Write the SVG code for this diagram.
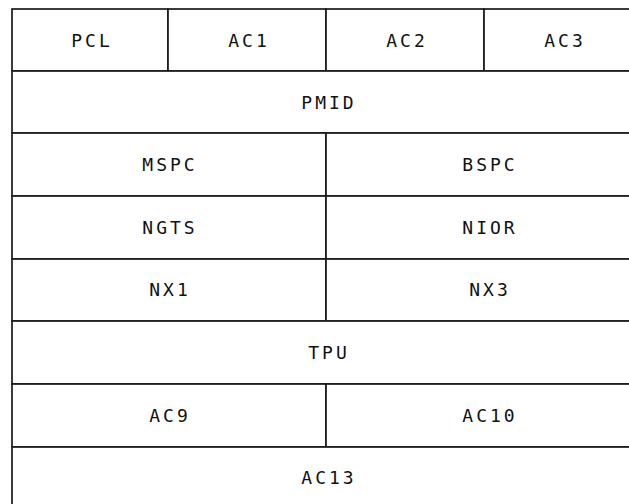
<svg xmlns="http://www.w3.org/2000/svg" width="629" height="504" viewBox="0 0 629 504">
  <style>
    .cell { fill: #ffffff; stroke: #1a1a1a; stroke-width: 1.7; }
    .lbl { font-family: "DejaVu Sans Mono", "Liberation Mono", monospace; font-size: 18px; letter-spacing: 3px; fill: #111111; text-anchor: middle; }
  </style>
  <rect width="629" height="504" fill="#ffffff"/>

  <!-- Row 1 -->
  <g id="pcl"><rect class="cell" x="12" y="9" width="156" height="62"/><text class="lbl" x="92" y="47">PCL</text></g>
  <g id="ac1"><rect class="cell" x="168" y="9" width="158" height="62"/><text class="lbl" x="249" y="47">AC1</text></g>
  <g id="ac2"><rect class="cell" x="326" y="9" width="158" height="62"/><text class="lbl" x="407" y="47">AC2</text></g>
  <g id="ac3"><rect class="cell" x="484" y="9" width="160" height="62"/><text class="lbl" x="565" y="47">AC3</text></g>

  <!-- Row 2 -->
  <g id="pmid"><rect class="cell" x="12" y="71" width="632" height="62"/><text class="lbl" x="329" y="109">PMID</text></g>

  <!-- Row 3 -->
  <g id="mspc"><rect class="cell" x="12" y="133" width="314" height="63"/><text class="lbl" x="170" y="171">MSPC</text></g>
  <g id="bspc"><rect class="cell" x="326" y="133" width="318" height="63"/><text class="lbl" x="490" y="171">BSPC</text></g>

  <!-- Row 4 -->
  <g id="ngts"><rect class="cell" x="12" y="196" width="314" height="63"/><text class="lbl" x="170" y="234">NGTS</text></g>
  <g id="nior"><rect class="cell" x="326" y="196" width="318" height="63"/><text class="lbl" x="490" y="234">NIOR</text></g>

  <!-- Row 5 -->
  <g id="nx1"><rect class="cell" x="12" y="259" width="314" height="62"/><text class="lbl" x="170" y="296">NX1</text></g>
  <g id="nx3"><rect class="cell" x="326" y="259" width="318" height="62"/><text class="lbl" x="490" y="296">NX3</text></g>

  <!-- Row 6 -->
  <g id="tpu"><rect class="cell" x="12" y="321" width="632" height="63"/><text class="lbl" x="329" y="359">TPU</text></g>

  <!-- Row 7 -->
  <g id="ac9"><rect class="cell" x="12" y="384" width="314" height="63"/><text class="lbl" x="170" y="422">AC9</text></g>
  <g id="ac10"><rect class="cell" x="326" y="384" width="318" height="63"/><text class="lbl" x="490" y="422">AC10</text></g>

  <!-- Row 8 (open at the bottom edge) -->
  <g id="ac13"><rect class="cell" x="12" y="447" width="632" height="70"/><text class="lbl" x="329" y="484">AC13</text></g>

  <g id="connectors"></g>
</svg>
